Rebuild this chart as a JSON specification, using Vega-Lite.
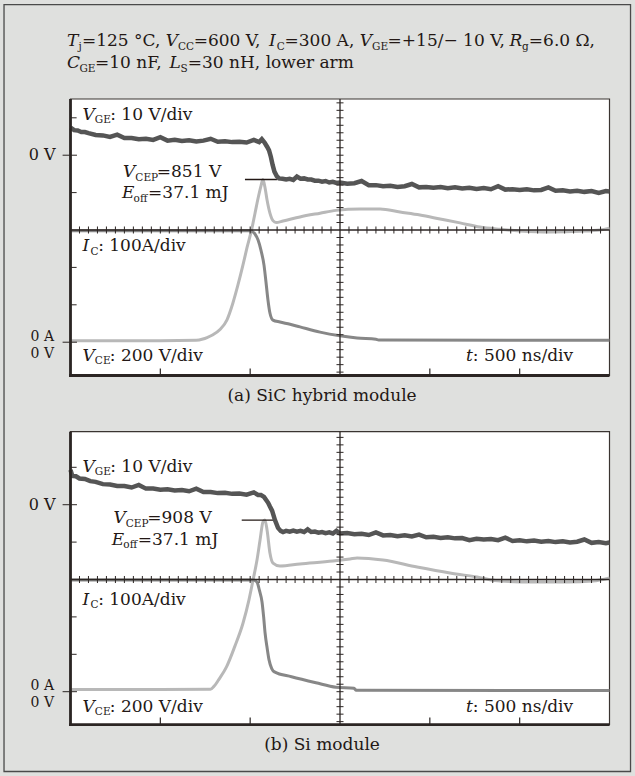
{
"$schema": "https://vega.github.io/schema/vega-lite/v6.json",
"width": 635, "height": 776,
"autosize": {"type": "fit", "contains": "padding"},
"padding": 0,
"background": "#dfe0de",
"config": {
  "view": {"stroke": null},
  "axis": {"disable": true},
  "text": {"font": "DejaVu Serif", "fontSize": 17, "fill": "#231815", "align": "left", "baseline": "alphabetic"},
  "rule": {"stroke": "#2b2523"}
},
"datasets": {
  "hticks": [{"t":-1450},{"t":-1400},{"t":-1350},{"t":-1300},{"t":-1250},{"t":-1200},{"t":-1150},{"t":-1100},{"t":-1050},{"t":-1000},{"t":-950},{"t":-900},{"t":-850},{"t":-800},{"t":-750},{"t":-700},{"t":-650},{"t":-600},{"t":-550},{"t":-500},{"t":-450},{"t":-400},{"t":-350},{"t":-300},{"t":-250},{"t":-200},{"t":-150},{"t":-100},{"t":-50},{"t":50},{"t":100},{"t":150},{"t":200},{"t":250},{"t":300},{"t":350},{"t":400},{"t":450},{"t":500},{"t":550},{"t":600},{"t":650},{"t":700},{"t":750},{"t":800},{"t":850},{"t":900},{"t":950},{"t":1000},{"t":1050},{"t":1100},{"t":1150},{"t":1200},{"t":1250},{"t":1300},{"t":1350},{"t":1400},{"t":1450}],
  "vticks_a": [{"d":-3.8},{"d":-3.6},{"d":-3.4},{"d":-3.2},{"d":-3.0},{"d":-2.8},{"d":-2.6},{"d":-2.4},{"d":-2.2},{"d":-2.0},{"d":-1.8},{"d":-1.6},{"d":-1.4},{"d":-1.2},{"d":-1.0},{"d":-0.8},{"d":-0.6},{"d":-0.4},{"d":-0.2},{"d":0.2},{"d":0.4},{"d":0.6},{"d":0.8},{"d":1.0},{"d":1.2},{"d":1.4},{"d":1.6},{"d":1.8},{"d":2.0},{"d":2.2},{"d":2.4},{"d":2.6},{"d":2.8},{"d":3.0},{"d":3.2},{"d":3.4}],
  "vticks_b": [{"d":-3.8},{"d":-3.6},{"d":-3.4},{"d":-3.2},{"d":-3.0},{"d":-2.8},{"d":-2.6},{"d":-2.4},{"d":-2.2},{"d":-2.0},{"d":-1.8},{"d":-1.6},{"d":-1.4},{"d":-1.2},{"d":-1.0},{"d":-0.8},{"d":-0.6},{"d":-0.4},{"d":-0.2},{"d":0.2},{"d":0.4},{"d":0.6},{"d":0.8},{"d":1.0},{"d":1.2},{"d":1.4},{"d":1.6},{"d":1.8},{"d":2.0},{"d":2.2},{"d":2.4},{"d":2.6},{"d":2.8},{"d":3.0},{"d":3.2},{"d":3.4},{"d":3.6},{"d":3.8}],
  "lticks": [{"d":3},{"d":1},{"d":-1},{"d":-2}],
  "zticks": [{"d":2},{"d":-3}],
  "bticks": [{"t":-1000},{"t":-500},{"t":500},{"t":1000}],
  "vge_a": [{"t":-1500,"v":7.4},{"t":-1480,"v":6.7},{"t":-1460,"v":6.6},{"t":-1440,"v":6.2},{"t":-1420,"v":6.2},{"t":-1400,"v":5.9},{"t":-1360,"v":5.4},{"t":-1320,"v":5.3},{"t":-1280,"v":4.9},{"t":-1240,"v":5.5},{"t":-1200,"v":4.6},{"t":-1160,"v":4.6},{"t":-1120,"v":4.3},{"t":-1080,"v":4.4},{"t":-1040,"v":4.1},{"t":-1000,"v":4.8},{"t":-960,"v":3.9},{"t":-920,"v":4.1},{"t":-880,"v":3.8},{"t":-840,"v":4.0},{"t":-800,"v":3.7},{"t":-760,"v":3.9},{"t":-720,"v":4.4},{"t":-680,"v":3.6},{"t":-640,"v":3.7},{"t":-600,"v":3.5},{"t":-560,"v":3.6},{"t":-520,"v":3.4},{"t":-480,"v":4.1},{"t":-450,"v":3.5},{"t":-435,"v":4.3},{"t":-420,"v":3.4},{"t":-405,"v":2.2},{"t":-395,"v":1.3},{"t":-385,"v":-0.4},{"t":-375,"v":-2.6},{"t":-365,"v":-4.4},{"t":-352,"v":-5.6},{"t":-340,"v":-6.2},{"t":-320,"v":-6.3},{"t":-300,"v":-6.5},{"t":-280,"v":-6.3},{"t":-260,"v":-6.6},{"t":-240,"v":-5.7},{"t":-220,"v":-6.3},{"t":-200,"v":-6.2},{"t":-180,"v":-6.5},{"t":-160,"v":-6.5},{"t":-140,"v":-6.8},{"t":-120,"v":-6.8},{"t":-100,"v":-7.1},{"t":-80,"v":-6.9},{"t":-60,"v":-7.3},{"t":-40,"v":-7.1},{"t":-20,"v":-7.4},{"t":0,"v":-7.3},{"t":40,"v":-7.6},{"t":80,"v":-7.5},{"t":120,"v":-6.9},{"t":160,"v":-8.0},{"t":200,"v":-8.0},{"t":240,"v":-8.3},{"t":280,"v":-8.2},{"t":320,"v":-8.5},{"t":360,"v":-8.3},{"t":400,"v":-7.7},{"t":440,"v":-8.6},{"t":480,"v":-8.5},{"t":520,"v":-8.7},{"t":560,"v":-8.5},{"t":600,"v":-8.8},{"t":640,"v":-8.6},{"t":680,"v":-8.9},{"t":720,"v":-8.7},{"t":760,"v":-9.0},{"t":800,"v":-8.8},{"t":840,"v":-9.1},{"t":880,"v":-8.3},{"t":920,"v":-9.2},{"t":960,"v":-9.1},{"t":1000,"v":-9.3},{"t":1040,"v":-9.1},{"t":1080,"v":-9.4},{"t":1120,"v":-9.3},{"t":1160,"v":-8.6},{"t":1200,"v":-9.5},{"t":1240,"v":-9.4},{"t":1280,"v":-9.7},{"t":1320,"v":-9.5},{"t":1360,"v":-9.8},{"t":1400,"v":-9.6},{"t":1440,"v":-10.1},{"t":1480,"v":-9.6},{"t":1500,"v":-9.7}],
  "vce_a": [{"t":-1500,"v":8},{"t":-1000,"v":8},{"t":-800,"v":10},{"t":-763,"v":17},{"t":-740,"v":25},{"t":-707,"v":40},{"t":-668,"v":68},{"t":-629,"v":120},{"t":-596,"v":210},{"t":-568,"v":306},{"t":-540,"v":413},{"t":-518,"v":504},{"t":-490,"v":610},{"t":-473,"v":690},{"t":-456,"v":770},{"t":-440,"v":835},{"t":-429,"v":870},{"t":-418,"v":830},{"t":-406,"v":760},{"t":-390,"v":690},{"t":-373,"v":650},{"t":-356,"v":640},{"t":-317,"v":648},{"t":-223,"v":670},{"t":-111,"v":690},{"t":-22,"v":705},{"t":111,"v":712},{"t":223,"v":712},{"t":334,"v":696},{"t":445,"v":680},{"t":557,"v":659},{"t":668,"v":638},{"t":779,"v":616},{"t":891,"v":604},{"t":1002,"v":595},{"t":1169,"v":589},{"t":1336,"v":593},{"t":1447,"v":600},{"t":1500,"v":610}],
  "ic_a": [{"t":-1500,"v":298},{"t":-503,"v":298},{"t":-485,"v":295},{"t":-473,"v":289},{"t":-456,"v":273},{"t":-440,"v":246},{"t":-423,"v":206},{"t":-412,"v":161},{"t":-401,"v":113},{"t":-390,"v":78},{"t":-373,"v":59},{"t":-334,"v":54},{"t":-278,"v":48},{"t":-223,"v":41},{"t":-111,"v":27},{"t":0,"v":17},{"t":95,"v":11},{"t":200,"v":8},{"t":215,"v":6},{"t":1500,"v":5}],
  "vge_b": [{"t":-1500,"v":9.3},{"t":-1490,"v":7.7},{"t":-1470,"v":7.6},{"t":-1450,"v":7.0},{"t":-1420,"v":6.9},{"t":-1390,"v":6.3},{"t":-1360,"v":6.1},{"t":-1320,"v":5.5},{"t":-1280,"v":5.4},{"t":-1240,"v":5.0},{"t":-1200,"v":5.0},{"t":-1160,"v":4.6},{"t":-1120,"v":5.3},{"t":-1080,"v":4.3},{"t":-1040,"v":4.3},{"t":-1000,"v":4.0},{"t":-960,"v":4.1},{"t":-920,"v":3.8},{"t":-880,"v":3.9},{"t":-840,"v":3.6},{"t":-800,"v":4.3},{"t":-760,"v":3.4},{"t":-720,"v":3.4},{"t":-680,"v":3.1},{"t":-640,"v":3.2},{"t":-600,"v":2.9},{"t":-560,"v":3.0},{"t":-520,"v":2.7},{"t":-480,"v":3.3},{"t":-456,"v":2.6},{"t":-440,"v":2.6},{"t":-423,"v":2.1},{"t":-410,"v":1.2},{"t":-400,"v":0.5},{"t":-390,"v":-0.5},{"t":-378,"v":-1.6},{"t":-362,"v":-4.1},{"t":-345,"v":-6.2},{"t":-330,"v":-7.0},{"t":-317,"v":-7.3},{"t":-300,"v":-7.0},{"t":-280,"v":-7.2},{"t":-260,"v":-6.9},{"t":-240,"v":-7.2},{"t":-220,"v":-7.0},{"t":-200,"v":-7.3},{"t":-180,"v":-6.6},{"t":-160,"v":-7.3},{"t":-140,"v":-7.2},{"t":-120,"v":-7.5},{"t":-100,"v":-7.3},{"t":-80,"v":-7.6},{"t":-60,"v":-7.4},{"t":-40,"v":-7.7},{"t":-20,"v":-7.0},{"t":0,"v":-7.7},{"t":40,"v":-7.6},{"t":80,"v":-7.9},{"t":120,"v":-7.8},{"t":160,"v":-8.1},{"t":200,"v":-7.4},{"t":240,"v":-8.2},{"t":280,"v":-8.1},{"t":320,"v":-8.4},{"t":360,"v":-8.2},{"t":400,"v":-8.5},{"t":440,"v":-8.0},{"t":480,"v":-8.7},{"t":520,"v":-8.6},{"t":560,"v":-8.9},{"t":600,"v":-8.7},{"t":640,"v":-9.0},{"t":680,"v":-8.9},{"t":720,"v":-9.5},{"t":760,"v":-9.1},{"t":800,"v":-9.3},{"t":840,"v":-9.2},{"t":880,"v":-9.5},{"t":920,"v":-8.8},{"t":960,"v":-9.7},{"t":1000,"v":-9.5},{"t":1040,"v":-9.8},{"t":1080,"v":-9.6},{"t":1120,"v":-9.9},{"t":1160,"v":-9.7},{"t":1200,"v":-10.0},{"t":1240,"v":-9.8},{"t":1280,"v":-10.1},{"t":1320,"v":-9.9},{"t":1360,"v":-9.3},{"t":1400,"v":-10.2},{"t":1440,"v":-10.0},{"t":1480,"v":-10.3},{"t":1500,"v":-10.1}],
  "vce_b": [{"t":-1500,"v":12},{"t":-1000,"v":12},{"t":-721,"v":13},{"t":-700,"v":30},{"t":-676,"v":63},{"t":-631,"v":134},{"t":-586,"v":241},{"t":-540,"v":366},{"t":-507,"v":490},{"t":-484,"v":597},{"t":-462,"v":704},{"t":-445,"v":811},{"t":-429,"v":907},{"t":-418,"v":918},{"t":-406,"v":865},{"t":-390,"v":742},{"t":-373,"v":688},{"t":-334,"v":672},{"t":-223,"v":683},{"t":-39,"v":699},{"t":56,"v":710},{"t":95,"v":715},{"t":239,"v":704},{"t":429,"v":667},{"t":612,"v":635},{"t":763,"v":613},{"t":891,"v":592},{"t":1074,"v":587},{"t":1264,"v":587},{"t":1408,"v":592},{"t":1500,"v":608}],
  "ic_b": [{"t":-1500,"v":299},{"t":-480,"v":299},{"t":-462,"v":293},{"t":-448,"v":270},{"t":-434,"v":240},{"t":-425,"v":200},{"t":-417,"v":157},{"t":-405,"v":115},{"t":-395,"v":85},{"t":-380,"v":62},{"t":-365,"v":53},{"t":-270,"v":40},{"t":-134,"v":24},{"t":-22,"v":12},{"t":78,"v":9},{"t":90,"v":4},{"t":1500,"v":3}]
},
"data": {"values": [{}]},
"resolve": {"scale": {"y": "independent"}},
"layer": [
 {
  "resolve": {"scale": {"y": "independent"}},
  "layer": [
   {"mark": {"type": "rect", "fill": "#ffffff", "stroke": "#3a3431", "strokeWidth": 1.2},
    "encoding": {"x": {"datum": -1500, "type": "quantitative", "scale": {"domain": [-1892.4, 1641.9], "nice": false, "zero": false}}, "x2": {"datum": 1500},
                 "y": {"datum": 3.503, "type": "quantitative", "scale": {"domain": [-14.599, 6.150], "nice": false, "zero": false}}, "y2": {"datum": -3.89}}},
   {"layer": [
     {"data": {"name": "vce_a"}, "mark": {"type": "line", "color": "#b8b8b8", "strokeWidth": 3, "interpolate": "monotone"},
      "encoding": {"x": {"field": "t", "type": "quantitative"}, "y": {"field": "v", "type": "quantitative", "scale": {"domain": [-2319.8, 1830.0], "nice": false, "zero": false}}}},
     {"mark": {"type": "rule", "strokeWidth": 1.3, "color": "#231815"},
      "encoding": {"x": {"datum": -529}, "x2": {"datum": -351}, "y": {"datum": 870}}}
   ]},
   {"data": {"name": "ic_a"}, "mark": {"type": "line", "color": "#878787", "strokeWidth": 3, "interpolate": "monotone"},
    "encoding": {"x": {"field": "t", "type": "quantitative"}, "y": {"field": "v", "type": "quantitative", "scale": {"domain": [-1159.9, 915.0], "nice": false, "zero": false}}}},
   {"data": {"name": "vge_a"}, "mark": {"type": "line", "color": "#555555", "strokeWidth": 4.5},
    "encoding": {"x": {"field": "t", "type": "quantitative"}, "y": {"field": "v", "type": "quantitative", "scale": {"domain": [-165.99, 41.50], "nice": false, "zero": false}}}},
   {"layer": [
     {"mark": {"type": "rule", "strokeWidth": 1.3}, "encoding": {"x": {"datum": -1500}, "x2": {"datum": 1500}, "y": {"datum": 0, "type": "quantitative", "scale": {"domain": [-14.599, 6.150], "nice": false, "zero": false}}}},
     {"mark": {"type": "rule", "strokeWidth": 1.3}, "encoding": {"x": {"datum": 0}, "y": {"datum": -3.89}, "y2": {"datum": 3.503}}},
     {"data": {"name": "hticks"}, "mark": {"type": "rule", "strokeWidth": 1}, "encoding": {"x": {"field": "t", "type": "quantitative"}, "y": {"datum": -0.094}, "y2": {"datum": 0.094}}},
     {"data": {"name": "vticks_a"}, "mark": {"type": "rule", "strokeWidth": 1}, "encoding": {"y": {"field": "d", "type": "quantitative"}, "x": {"datum": -19.5}, "x2": {"datum": 19.5}}},
     {"data": {"name": "lticks"}, "mark": {"type": "rule", "strokeWidth": 1}, "encoding": {"y": {"field": "d", "type": "quantitative"}, "x": {"datum": -1500}, "x2": {"datum": -1466}}},
     {"data": {"name": "zticks"}, "mark": {"type": "rule", "strokeWidth": 1}, "encoding": {"y": {"field": "d", "type": "quantitative"}, "x": {"datum": -1544}, "x2": {"datum": -1464}}},
     {"data": {"name": "bticks"}, "mark": {"type": "rule", "strokeWidth": 1.2}, "encoding": {"x": {"field": "t", "type": "quantitative"}, "y": {"datum": -3.89}, "y2": {"datum": -3.70}}},
     {"mark": {"type": "rule", "strokeWidth": 2.8}, "encoding": {"x": {"datum": -1500}, "y": {"datum": -3.928}, "y2": {"datum": 3.503}}},
     {"mark": {"type": "rule", "strokeWidth": 2.8}, "encoding": {"x": {"datum": -1508}, "x2": {"datum": 1500}, "y": {"datum": -3.89}}},
     {"mark": {"type": "rect", "fill": null, "stroke": "#4a4a4a", "strokeWidth": 1.3}, "encoding": {"x": {"datum": -1870}, "x2": {"datum": 1617}, "y": {"datum": 6.029}, "y2": {"datum": -14.479}}},
     {"mark": {"type": "text", "text": "T", "fontStyle": "italic"}, "encoding": {"x": {"datum": -1519.5}, "y": {"datum": 4.92}}},
     {"mark": {"type": "text", "text": "j", "fontSize": 10.5}, "encoding": {"x": {"datum": -1456}, "y": {"datum": 4.826}}},
     {"mark": {"type": "text", "text": "=125 °C, "}, "encoding": {"x": {"datum": -1436.6}, "y": {"datum": 4.92}}},
     {"mark": {"type": "text", "text": "V", "fontStyle": "italic"}, "encoding": {"x": {"datum": -970.1}, "y": {"datum": 4.92}}},
     {"mark": {"type": "text", "text": "CC", "fontSize": 10.5}, "encoding": {"x": {"datum": -901.7}, "y": {"datum": 4.826}}},
     {"mark": {"type": "text", "text": "=600 V, "}, "encoding": {"x": {"datum": -814.3}, "y": {"datum": 4.92}}},
     {"mark": {"type": "text", "text": "I", "fontStyle": "italic"}, "encoding": {"x": {"datum": -395.7}, "y": {"datum": 4.92}}},
     {"mark": {"type": "text", "text": "C", "fontSize": 10.5}, "encoding": {"x": {"datum": -352.3}, "y": {"datum": 4.826}}},
     {"mark": {"type": "text", "text": "=300 A, "}, "encoding": {"x": {"datum": -308.9}, "y": {"datum": 4.92}}},
     {"mark": {"type": "text", "text": "V", "fontStyle": "italic"}, "encoding": {"x": {"datum": 109.6}, "y": {"datum": 4.92}}},
     {"mark": {"type": "text", "text": "GE", "fontSize": 10.5}, "encoding": {"x": {"datum": 178.1}, "y": {"datum": 4.826}}},
     {"mark": {"type": "text", "text": "=+15/− 10 V,"}, "encoding": {"x": {"datum": 264.9}, "y": {"datum": 4.92}}},
     {"mark": {"type": "text", "text": "R", "fontStyle": "italic"}, "encoding": {"x": {"datum": 944}, "y": {"datum": 4.92}}},
     {"mark": {"type": "text", "text": "g", "fontSize": 10.5}, "encoding": {"x": {"datum": 1013}, "y": {"datum": 4.826}}},
     {"mark": {"type": "text", "text": "=6.0 Ω,"}, "encoding": {"x": {"datum": 1050.9}, "y": {"datum": 4.92}}},
     {"mark": {"type": "text", "text": "C", "fontStyle": "italic"}, "encoding": {"x": {"datum": -1519.5}, "y": {"datum": 4.332}}},
     {"mark": {"type": "text", "text": "GE", "fontSize": 10.5}, "encoding": {"x": {"datum": -1450.4}, "y": {"datum": 4.238}}},
     {"mark": {"type": "text", "text": "=10 nF, "}, "encoding": {"x": {"datum": -1364.2}, "y": {"datum": 4.332}}},
     {"mark": {"type": "text", "text": "L", "fontStyle": "italic"}, "encoding": {"x": {"datum": -948.4}, "y": {"datum": 4.332}}},
     {"mark": {"type": "text", "text": "S", "fontSize": 10.5}, "encoding": {"x": {"datum": -887.8}, "y": {"datum": 4.238}}},
     {"mark": {"type": "text", "text": "=30 nH, lower arm"}, "encoding": {"x": {"datum": -847.1}, "y": {"datum": 4.332}}},
     {"mark": {"type": "text", "text": "V", "fontStyle": "italic"}, "encoding": {"x": {"datum": -1433}, "y": {"datum": 2.941}}},
     {"mark": {"type": "text", "text": "GE", "fontSize": 10.5}, "encoding": {"x": {"datum": -1364.5}, "y": {"datum": 2.848}}},
     {"mark": {"type": "text", "text": ": 10 V/div"}, "encoding": {"x": {"datum": -1279}, "y": {"datum": 2.941}}},
     {"mark": {"type": "text", "text": "0 V", "fontSize": 16}, "encoding": {"x": {"datum": -1732}, "y": {"datum": 1.872}}},
     {"mark": {"type": "text", "text": "V", "fontStyle": "italic"}, "encoding": {"x": {"datum": -1208}, "y": {"datum": 1.409}}},
     {"mark": {"type": "text", "text": "CEP", "fontSize": 10.5}, "encoding": {"x": {"datum": -1139}, "y": {"datum": 1.316}}},
     {"mark": {"type": "text", "text": "=851 V"}, "encoding": {"x": {"datum": -1019.7}, "y": {"datum": 1.409}}},
     {"mark": {"type": "text", "text": "E", "fontStyle": "italic"}, "encoding": {"x": {"datum": -1213}, "y": {"datum": 0.848}}},
     {"mark": {"type": "text", "text": "off", "fontSize": 10.5}, "encoding": {"x": {"datum": -1148.8}, "y": {"datum": 0.754}}},
     {"mark": {"type": "text", "text": "=37.1 mJ"}, "encoding": {"x": {"datum": -1068}, "y": {"datum": 0.848}}},
     {"mark": {"type": "text", "text": "I", "fontStyle": "italic"}, "encoding": {"x": {"datum": -1433}, "y": {"datum": -0.561}}},
     {"mark": {"type": "text", "text": "C", "fontSize": 10.5}, "encoding": {"x": {"datum": -1389}, "y": {"datum": -0.655}}},
     {"mark": {"type": "text", "text": ": 100A/div"}, "encoding": {"x": {"datum": -1346}, "y": {"datum": -0.561}}},
     {"mark": {"type": "text", "text": ["0 A", "0 V"], "fontSize": 14, "lineHeight": 16.5}, "encoding": {"x": {"datum": -1722}, "y": {"datum": -2.968}}},
     {"mark": {"type": "text", "text": "V", "fontStyle": "italic"}, "encoding": {"x": {"datum": -1433}, "y": {"datum": -3.495}}},
     {"mark": {"type": "text", "text": "CE", "fontSize": 10.5}, "encoding": {"x": {"datum": -1364.5}, "y": {"datum": -3.588}}},
     {"mark": {"type": "text", "text": ": 200 V/div"}, "encoding": {"x": {"datum": -1281}, "y": {"datum": -3.495}}},
     {"mark": {"type": "text", "text": "t", "fontStyle": "italic"}, "encoding": {"x": {"datum": 701.3}, "y": {"datum": -3.495}}},
     {"mark": {"type": "text", "text": ": 500 ns/div"}, "encoding": {"x": {"datum": 739.2}, "y": {"datum": -3.495}}},
     {"mark": {"type": "text", "text": "(a) SiC hybrid module", "align": "center"}, "encoding": {"x": {"datum": -100}, "y": {"datum": -4.567}}}
   ]}
  ]
 },
 {
  "resolve": {"scale": {"y": "independent"}},
  "layer": [
   {"mark": {"type": "rect", "fill": "#ffffff", "stroke": "#3a3431", "strokeWidth": 1.2},
    "encoding": {"x": {"datum": -1500, "type": "quantitative"}, "x2": {"datum": 1500},
                 "y": {"datum": 3.952, "type": "quantitative", "scale": {"domain": [-5.254, 15.495], "nice": false, "zero": false}}, "y2": {"datum": -3.882}}},
   {"layer": [
     {"data": {"name": "vce_b"}, "mark": {"type": "line", "color": "#b8b8b8", "strokeWidth": 3, "interpolate": "monotone"},
      "encoding": {"x": {"field": "t", "type": "quantitative"}, "y": {"field": "v", "type": "quantitative", "scale": {"domain": [-450.8, 3699.0], "nice": false, "zero": false}}}},
     {"mark": {"type": "rule", "strokeWidth": 1.3, "color": "#231815"},
      "encoding": {"x": {"datum": -547}, "x2": {"datum": -352}, "y": {"datum": 918}}}
   ]},
   {"data": {"name": "ic_b"}, "mark": {"type": "line", "color": "#878787", "strokeWidth": 3, "interpolate": "monotone"},
    "encoding": {"x": {"field": "t", "type": "quantitative"}, "y": {"field": "v", "type": "quantitative", "scale": {"domain": [-225.4, 1849.5], "nice": false, "zero": false}}}},
   {"data": {"name": "vge_b"}, "mark": {"type": "line", "color": "#555555", "strokeWidth": 4.5},
    "encoding": {"x": {"field": "t", "type": "quantitative"}, "y": {"field": "v", "type": "quantitative", "scale": {"domain": [-72.54, 134.95], "nice": false, "zero": false}}}},
   {"layer": [
     {"mark": {"type": "rule", "strokeWidth": 1.3}, "encoding": {"x": {"datum": -1500}, "x2": {"datum": 1500}, "y": {"datum": 0, "type": "quantitative", "scale": {"domain": [-5.254, 15.495], "nice": false, "zero": false}}}},
     {"mark": {"type": "rule", "strokeWidth": 1.3}, "encoding": {"x": {"datum": 0}, "y": {"datum": -3.882}, "y2": {"datum": 3.952}}},
     {"data": {"name": "hticks"}, "mark": {"type": "rule", "strokeWidth": 1}, "encoding": {"x": {"field": "t", "type": "quantitative"}, "y": {"datum": -0.094}, "y2": {"datum": 0.094}}},
     {"data": {"name": "vticks_b"}, "mark": {"type": "rule", "strokeWidth": 1}, "encoding": {"y": {"field": "d", "type": "quantitative"}, "x": {"datum": -19.5}, "x2": {"datum": 19.5}}},
     {"data": {"name": "lticks"}, "mark": {"type": "rule", "strokeWidth": 1}, "encoding": {"y": {"field": "d", "type": "quantitative"}, "x": {"datum": -1500}, "x2": {"datum": -1466}}},
     {"data": {"name": "zticks"}, "mark": {"type": "rule", "strokeWidth": 1}, "encoding": {"y": {"field": "d", "type": "quantitative"}, "x": {"datum": -1544}, "x2": {"datum": -1464}}},
     {"data": {"name": "bticks"}, "mark": {"type": "rule", "strokeWidth": 1.2}, "encoding": {"x": {"field": "t", "type": "quantitative"}, "y": {"datum": -3.882}, "y2": {"datum": -3.692}}},
     {"mark": {"type": "rule", "strokeWidth": 2.8}, "encoding": {"x": {"datum": -1500}, "y": {"datum": -3.92}, "y2": {"datum": 3.952}}},
     {"mark": {"type": "rule", "strokeWidth": 2.8}, "encoding": {"x": {"datum": -1508}, "x2": {"datum": 1500}, "y": {"datum": -3.882}}},
     {"mark": {"type": "text", "text": "V", "fontStyle": "italic"}, "encoding": {"x": {"datum": -1433}, "y": {"datum": 2.882}}},
     {"mark": {"type": "text", "text": "GE", "fontSize": 10.5}, "encoding": {"x": {"datum": -1364.5}, "y": {"datum": 2.789}}},
     {"mark": {"type": "text", "text": ": 10 V/div"}, "encoding": {"x": {"datum": -1279}, "y": {"datum": 2.882}}},
     {"mark": {"type": "text", "text": "0 V", "fontSize": 16}, "encoding": {"x": {"datum": -1732}, "y": {"datum": 1.866}}},
     {"mark": {"type": "text", "text": "V", "fontStyle": "italic"}, "encoding": {"x": {"datum": -1260.7}, "y": {"datum": 1.503}}},
     {"mark": {"type": "text", "text": "CEP", "fontSize": 10.5}, "encoding": {"x": {"datum": -1192.2}, "y": {"datum": 1.409}}},
     {"mark": {"type": "text", "text": "=908 V"}, "encoding": {"x": {"datum": -1072.5}, "y": {"datum": 1.503}}},
     {"mark": {"type": "text", "text": "E", "fontStyle": "italic"}, "encoding": {"x": {"datum": -1270.7}, "y": {"datum": 0.922}}},
     {"mark": {"type": "text", "text": "off", "fontSize": 10.5}, "encoding": {"x": {"datum": -1206.1}, "y": {"datum": 0.829}}},
     {"mark": {"type": "text", "text": "=37.1 mJ"}, "encoding": {"x": {"datum": -1125.4}, "y": {"datum": 0.922}}},
     {"mark": {"type": "text", "text": "I", "fontStyle": "italic"}, "encoding": {"x": {"datum": -1433}, "y": {"datum": -0.682}}},
     {"mark": {"type": "text", "text": "C", "fontSize": 10.5}, "encoding": {"x": {"datum": -1389}, "y": {"datum": -0.775}}},
     {"mark": {"type": "text", "text": ": 100A/div"}, "encoding": {"x": {"datum": -1346}, "y": {"datum": -0.682}}},
     {"mark": {"type": "text", "text": ["0 A", "0 V"], "fontSize": 14, "lineHeight": 16.5}, "encoding": {"x": {"datum": -1722}, "y": {"datum": -2.958}}},
     {"mark": {"type": "text", "text": "V", "fontStyle": "italic"}, "encoding": {"x": {"datum": -1433}, "y": {"datum": -3.535}}},
     {"mark": {"type": "text", "text": "CE", "fontSize": 10.5}, "encoding": {"x": {"datum": -1364.5}, "y": {"datum": -3.628}}},
     {"mark": {"type": "text", "text": ": 200 V/div"}, "encoding": {"x": {"datum": -1281}, "y": {"datum": -3.535}}},
     {"mark": {"type": "text", "text": "t", "fontStyle": "italic"}, "encoding": {"x": {"datum": 701.3}, "y": {"datum": -3.535}}},
     {"mark": {"type": "text", "text": ": 500 ns/div"}, "encoding": {"x": {"datum": 739.2}, "y": {"datum": -3.535}}},
     {"mark": {"type": "text", "text": "(b) Si module", "align": "center"}, "encoding": {"x": {"datum": -100}, "y": {"datum": -4.559}}}
   ]}
  ]
 }
]
}
